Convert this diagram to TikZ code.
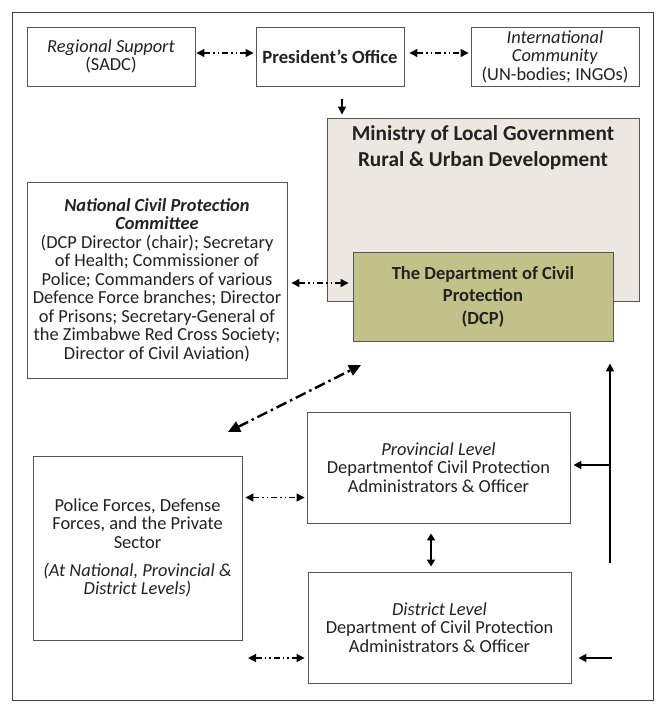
\documentclass[tikz,border=0pt]{standalone}
\usepackage{fontspec}
\setmainfont{Carlito}
\usetikzlibrary{arrows.meta}
\definecolor{minfill}{HTML}{ECE8E1}
\definecolor{dcpfill}{HTML}{C2C18A}
\definecolor{boxline}{HTML}{555555}
\definecolor{txt}{HTML}{222222}
\tikzset{
  box/.style={draw=boxline, line width=0.9pt, fill=white, align=center, inner sep=0pt,
    text=txt, font=\fontsize{18.4}{18.5}\selectfont},
  dd/.style={line width=1.3pt, dash pattern=on 6pt off 3pt on 1.5pt off 3pt on 1.5pt off 3pt,
    {Triangle[length=8pt,width=8pt]}-{Triangle[length=8pt,width=8pt]}},
  diag/.style={line width=2.4pt, dash pattern=on 11pt off 4pt on 2.5pt off 4pt,
    {Triangle[length=12pt,width=11pt]}-{Triangle[length=12pt,width=11pt]}},
  sarr/.style={line width=1.8pt, -{Triangle[length=8pt,width=8pt]}},
  sdbl/.style={line width=1.8pt, {Triangle[length=7pt,width=8pt]}-{Triangle[length=7pt,width=8pt]}},
}
\begin{document}
\begin{tikzpicture}[x=1pt,y=-1pt]
\useasboundingbox (0,0) rectangle (657,711);
\draw[line width=0.9pt, draw=black!75] (12,12) rectangle (653,700);

\node[box, minimum width=168pt, minimum height=59pt] (reg) at (111,56.5)
  {\textit{Regional Support}\\(SADC)};
\node[box, minimum width=148pt, minimum height=59pt, font=\fontsize{18.7}{20}\selectfont\bfseries] (pres) at (330,56.5)
  {President’s Office};
\node[box, minimum width=168pt, minimum height=59pt] (intl) at (555,56.5)
  {\textit{International}\\\textit{Community}\\(UN-bodies; INGOs)};

\node[box, fill=minfill, minimum width=312pt, minimum height=183pt] (min) at (483,209.5) {};
\node[anchor=north, align=center, text=txt, inner sep=0pt, font=\fontsize{21.3}{26}\selectfont\bfseries] (mintext) at ([yshift=-8pt]min.north)
  {Ministry of Local Government\\Rural \& Urban Development};
\node[box, fill=dcpfill, minimum width=260pt, minimum height=89pt, font=\fontsize{18.5}{22.5}\selectfont\bfseries] (dcp) at (483,296.5)
  {The Department of Civil\\Protection\\(DCP)};

\node[box, minimum width=260pt, minimum height=196pt] (ncpc) at (157,280)
  {\textbf{\textit{National Civil Protection}}\\\textbf{\textit{Committee}}\\(DCP Director (chair); Secretary\\of Health; Commissioner of\\Police; Commanders of various\\Defence Force branches; Director\\of Prisons; Secretary-General of\\the Zimbabwe Red Cross Society;\\Director of Civil Aviation)};

\node[box, minimum width=209pt, minimum height=184pt] (police) at (137.5,548)
  {Police Forces, Defense\\Forces, and the Private\\Sector\\[9.5pt]\textit{(At National, Provincial \&}\\\textit{District Levels)}};

\node[box, minimum width=263pt, minimum height=111pt] (prov) at (438.5,467.5)
  {\textit{Provincial Level}\\Departmentof Civil Protection\\Administrators \& Officer};
\node[box, minimum width=263pt, minimum height=111pt] (dist) at (439.5,627.5)
  {\textit{District Level}\\Department of Civil Protection\\Administrators \& Officer};

% top row connectors
\draw[dd, shorten <=1pt, shorten >=2pt] ([yshift=3.5pt]reg.east) -- ([yshift=3.5pt]reg.east -| pres.west);
\draw[dd, shorten <=5pt, shorten >=2pt] ([yshift=3.5pt]pres.east) -- ([yshift=3.5pt]pres.east -| intl.west);
\draw[sarr, line width=1.5pt, shorten <=13pt, shorten >=3pt] ([xshift=12pt]pres.south) -- ([xshift=12pt]pres.south |- min.north);

% NCPC - DCP
\draw[dd, shorten <=4pt, shorten >=4pt] ([yshift=-3pt]ncpc.east) -- ([yshift=-3pt]ncpc.east -| dcp.west);

% diagonal
\coordinate (dgA) at (228,432);
\coordinate (dgB) at (361,365);
\draw[diag] (dgA) -- (dgB);

% police connectors
\coordinate (pp) at (0,497.5);
\draw[dd, shorten <=3pt, shorten >=2pt] (police.east |- pp) -- (prov.west |- pp);
\coordinate (pd) at (248,658);
\draw[dd, shorten >=3pt] (pd) -- (dist.west |- pd);

% provincial - district
\draw[sdbl, shorten <=10pt, shorten >=5pt] ([xshift=-7.5pt]prov.south) -- ([xshift=-7.5pt]prov.south |- dist.north);

% right side feedback
\coordinate (rb) at (610,563);
\coordinate (rj) at (610,465);
\draw[sarr, shorten >=22pt] (rb) -- (rb |- dcp.south);
\draw[sarr, shorten >=3pt] (rj) -- (rj -| prov.east);
\coordinate (dr) at (612,658);
\draw[sarr, shorten >=7pt] (dr) -- (dr -| dist.east);
\end{tikzpicture}
\end{document}
